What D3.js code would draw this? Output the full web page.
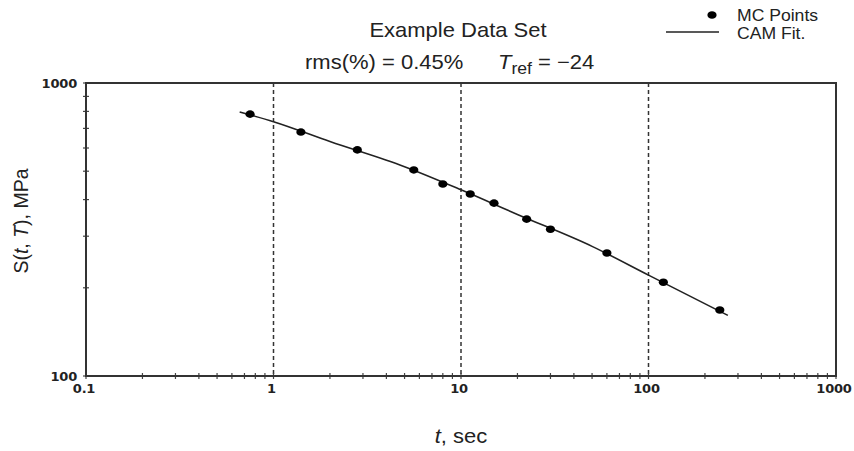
<!DOCTYPE html>
<html><head><meta charset="utf-8">
<script src="https://cdn.jsdelivr.net/npm/d3@7/dist/d3.min.js"></script>
<style>body{margin:0;background:#fff}svg{display:block}</style>
</head><body><svg id="c" width="854" height="451"></svg>
<script>
const mcTime = [0.75, 1.4, 2.8, 5.6, 8, 11.2, 15, 22.4, 30, 60, 120, 240];
const mcStrength = [783, 680, 591, 505, 452, 418, 389, 343, 317, 263, 209, 168];
const fitTime = [0.66, 1, 2, 5, 10, 20, 50, 100, 265];
const fitStrength = [796, 738, 631, 518, 432, 356, 277, 221, 161];
const xTicks = [0.1, 1, 10, 100, 1000];
const yTicks = [100, 1000];
const gridTimes = [1, 10, 100];

const svg = d3.select("#c");
const L = 86, R = 836, T = 83, B = 376;
const x = d3.scaleLog().domain([0.1, 1000]).range([L, R]);
const y = d3.scaleLog().domain([100, 1000]).range([B, T]);
const sans = "Liberation Sans, Arial, sans-serif";
const tickFont = "DejaVu Sans, Verdana, sans-serif";
const SX = 1.1;

// grid
svg.append("g").selectAll("line").data(gridTimes).join("line")
  .attr("x1", d => x(d)).attr("x2", d => x(d)).attr("y1", T).attr("y2", B)
  .attr("stroke", "#333").attr("stroke-width", 1.5).attr("stroke-dasharray", "4,3");

// minor ticks
const xMinor = [];
for (let e = -1; e < 3; e++) for (let m = 1; m <= 9; m++) xMinor.push(m * Math.pow(10, e));
xMinor.push(1000);
svg.append("g").selectAll("line").data(xMinor).join("line")
  .attr("x1", d => x(d)).attr("x2", d => x(d)).attr("y1", B - 3).attr("y2", B + 3)
  .attr("stroke", "#444").attr("stroke-width", 1.2);
const yMinor = [];
for (let m = 1; m <= 10; m++) yMinor.push(m * 100);
svg.append("g").selectAll("line").data(yMinor).join("line")
  .attr("x1", L - 3).attr("x2", L + 3).attr("y1", d => y(d)).attr("y2", d => y(d))
  .attr("stroke", "#444").attr("stroke-width", 1.2);

// frame
svg.append("rect").attr("x", L).attr("y", T).attr("width", R - L).attr("height", B - T)
  .attr("fill", "none").attr("stroke", "#333").attr("stroke-width", 2);

// tick labels
svg.append("g").selectAll("text").data(xTicks).join("text")
  .attr("x", d => x(d) - 2).attr("y", B + 17).attr("text-anchor", "middle")
  .attr("font-family", tickFont).attr("font-weight", "bold").attr("font-size", 13)
  .attr("fill", "#222").attr("letter-spacing", -0.2).text(d => d);
svg.append("g").selectAll("text").data(yTicks).join("text")
  .attr("x", L - 9).attr("y", d => y(d) + 4.5).attr("text-anchor", "end")
  .attr("font-family", tickFont).attr("font-weight", "bold").attr("font-size", 13)
  .attr("fill", "#222").attr("letter-spacing", -0.2).text(d => d);

// fit line
const line = d3.line().x(d => x(d[0])).y(d => y(d[1])).curve(d3.curveMonotoneX);
svg.append("path").datum(fitTime.map((t, i) => [t, fitStrength[i]]))
  .attr("d", line).attr("fill", "none").attr("stroke", "#222").attr("stroke-width", 1.6);

// points
svg.append("g").selectAll("ellipse").data(mcTime.map((t, i) => [t, mcStrength[i]])).join("ellipse")
  .attr("cx", d => x(d[0])).attr("cy", d => y(d[1])).attr("rx", 4.6).attr("ry", 3.8)
  .attr("fill", "#000");

function htext(px, py, anchor, size) {
  return svg.append("g").attr("transform", `translate(${px},${py}) scale(${SX},1)`)
    .append("text").attr("text-anchor", anchor).attr("font-family", sans)
    .attr("font-size", size).attr("fill", "#222");
}

// titles
htext(458, 37, "middle", 20).text("Example Data Set");
htext(305, 69, "start", 20).text("rms(%) = 0.45%");
const tr = htext(498, 69, "start", 20);
tr.append("tspan").attr("font-style", "italic").text("T");
tr.append("tspan").attr("dy", 5).attr("font-size", 16).text("ref");
tr.append("tspan").attr("dy", -5).text(" = \u221224");

// legend
svg.append("ellipse").attr("cx", 712).attr("cy", 15).attr("rx", 4.6).attr("ry", 3.8).attr("fill", "#000");
svg.append("line").attr("x1", 666).attr("x2", 719).attr("y1", 32).attr("y2", 32)
  .attr("stroke", "#222").attr("stroke-width", 1.6);
htext(737, 21, "start", 16).text("MC Points");
htext(737, 39, "start", 16).text("CAM Fit.");

// axis titles
const yl = svg.append("text").attr("transform", "translate(28,221) rotate(-90)")
  .attr("text-anchor", "middle").attr("font-family", sans).attr("font-size", 19.5).attr("fill", "#222");
yl.append("tspan").text("S(");
yl.append("tspan").attr("font-style", "italic").text("t");
yl.append("tspan").text(", ");
yl.append("tspan").attr("font-style", "italic").text("T");
yl.append("tspan").text("), MPa");

const xl = htext(461, 443, "middle", 20);
xl.append("tspan").attr("font-style", "italic").text("t");
xl.append("tspan").text(", sec");
</script></body></html>
